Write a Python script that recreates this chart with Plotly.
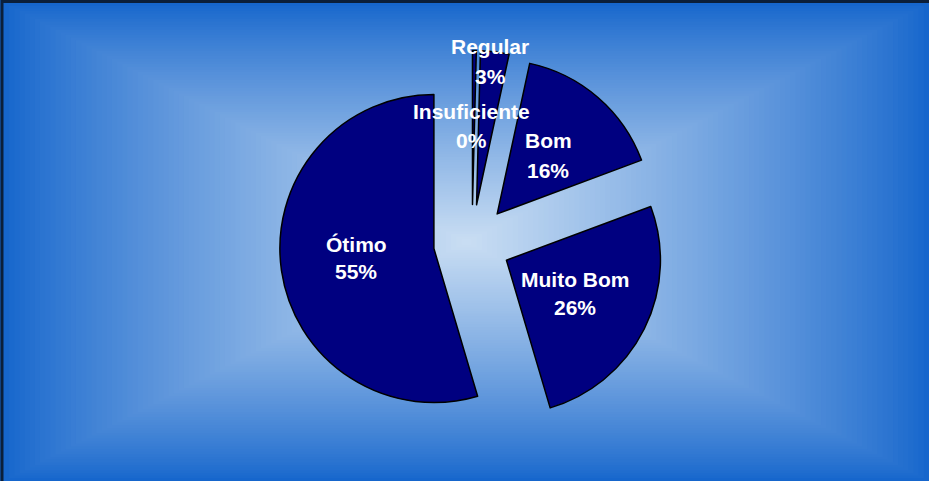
import plotly.graph_objects as go

# ---- data ----
labels = ["Insuficiente", "Regular", "Bom", "Muito Bom", "Ótimo"]
values = [0.4, 3.0, 16.0, 26.2, 54.8]
pct_text = ["0%", "3%", "16%", "26%", "55%"]

W, H = 929, 481

# ---- background: rectangular gradient from centre ----
edge = (22, 102, 204)
center = (202, 222, 243)
bx0, by0, bx1, by1 = 4, 3, 929, 481
cx, cy = (bx0 + bx1) / 2, (by0 + by1) / 2
hw, hh = (bx1 - bx0) / 2, (by1 - by0) / 2
shapes = []
N = 90
for i in range(N):
    t = 1 - i / N
    f = (1 - t) ** 0.85
    c = tuple(int(round(e + (ce - e) * f)) for e, ce in zip(edge, center))
    x0, x1 = cx - t * hw, cx + t * hw
    y0, y1 = cy - t * hh, cy + t * hh
    shapes.append(dict(type="rect", xref="paper", yref="paper", layer="below",
                       x0=x0 / W, x1=x1 / W, y0=1 - y1 / H, y1=1 - y0 / H,
                       fillcolor="rgb(%d,%d,%d)" % c, line=dict(width=0)))
# dark frame (top/left visible)
shapes.append(dict(type="rect", xref="paper", yref="paper", layer="above",
                   x0=2 / W, x1=1.02, y0=-0.02, y1=1 - 1.5 / H,
                   fillcolor="rgba(0,0,0,0)", line=dict(color="#0b1f3a", width=3)))

# ---- pie geometry ----
pcx, pcy, size = 472, 243, 385
dom_x = [(pcx - size / 2) / W, (pcx + size / 2) / W]
dom_y = [1 - (pcy + size / 2) / H, 1 - (pcy - size / 2) / H]

fig = go.Figure(go.Pie(
    labels=labels, values=values, sort=False, direction="clockwise", rotation=0,
    pull=[0.25] * len(values), textinfo="none", hoverinfo="label+percent",
    marker=dict(colors=["#000080"] * len(values), line=dict(color="black", width=1.5)),
    domain=dict(x=dom_x, y=dom_y), showlegend=False,
))

# label placement (pixel centres of each line: name, percent)
label_pos = {
    "Insuficiente": (471, 111, 140),
    "Regular": (490, 46, 76),
    "Bom": (548, 140, 170),
    "Muito Bom": (575, 279, 307),
    "Ótimo": (356, 244, 271),
}
annotations = []
for lab, pt in zip(labels, pct_text):
    x, y1, y2 = label_pos[lab]
    for txt, yy in ((lab, y1), (pt, y2)):
        annotations.append(dict(text="<b>%s</b>" % txt, x=x / W, y=1 - yy / H,
                                xref="paper", yref="paper", showarrow=False,
                                xanchor="center", yanchor="middle",
                                font=dict(family="Liberation Sans, Arial", size=21, color="white")))

fig.update_layout(width=W, height=H, margin=dict(l=0, r=0, t=0, b=0),
                  paper_bgcolor="rgb(22,102,204)", plot_bgcolor="rgba(0,0,0,0)",
                  shapes=shapes, annotations=annotations)
fig.write_html("out.html", config={"displayModeBar": False},
               post_script="document.body.style.margin='0';document.body.style.overflow='hidden';")
